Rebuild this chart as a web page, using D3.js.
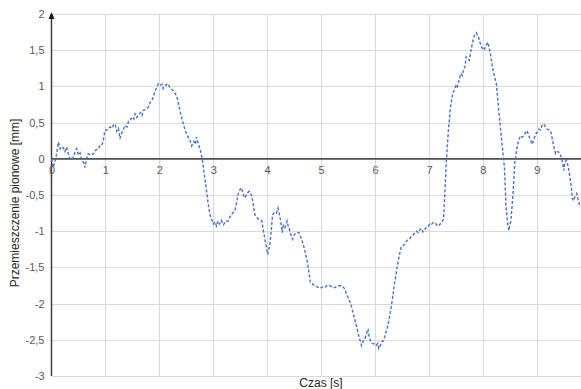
<!DOCTYPE html>
<html><head><meta charset="utf-8">
<script src="https://cdn.jsdelivr.net/npm/d3@7"></script>
<style>
html,body{margin:0;padding:0;background:#fff;}
svg{display:block;font-family:"Liberation Sans",Arial,sans-serif;}
</style></head>
<body>
<svg id="c" width="581" height="389"></svg>
<script>
const times = [0.00,0.03,0.06,0.09,0.127,0.16,0.19,0.22,0.25,0.28,0.32,0.356,0.40,0.44,0.467,0.50,0.53,0.56,0.60,0.62,0.65,0.68,0.72,0.78,0.82,0.87,0.90,0.93,0.96,0.99,1.03,1.085,1.12,1.15,1.18,1.21,1.24,1.27,1.30,1.33,1.36,1.40,1.43,1.46,1.50,1.53,1.55,1.58,1.61,1.65,1.68,1.70,1.75,1.80,1.83,1.86,1.90,1.92,1.95,1.98,2.02,2.05,2.07,2.10,2.15,2.20,2.26,2.32,2.35,2.38,2.43,2.48,2.52,2.57,2.60,2.64,2.67,2.69,2.72,2.76,2.80,2.84,2.88,2.92,2.95,3.00,3.03,3.06,3.09,3.12,3.15,3.19,3.23,3.28,3.31,3.34,3.37,3.40,3.43,3.46,3.50,3.52,3.56,3.59,3.62,3.65,3.67,3.71,3.74,3.77,3.80,3.83,3.87,3.90,3.94,3.98,4.01,4.05,4.08,4.10,4.14,4.17,4.20,4.23,4.25,4.28,4.30,4.33,4.35,4.37,4.39,4.41,4.44,4.47,4.50,4.54,4.59,4.64,4.70,4.76,4.80,4.84,4.88,4.93,4.98,5.03,5.07,5.11,5.16,5.20,5.25,5.30,5.35,5.40,5.44,5.47,5.52,5.56,5.59,5.62,5.66,5.69,5.72,5.75,5.78,5.81,5.84,5.87,5.89,5.91,5.95,5.99,6.02,6.05,6.07,6.10,6.12,6.15,6.18,6.21,6.24,6.27,6.30,6.33,6.36,6.40,6.43,6.46,6.49,6.52,6.55,6.58,6.61,6.65,6.68,6.71,6.74,6.77,6.80,6.83,6.86,6.89,6.93,6.96,6.99,7.02,7.05,7.08,7.11,7.14,7.17,7.21,7.25,7.27,7.29,7.32,7.36,7.40,7.44,7.47,7.50,7.52,7.55,7.59,7.62,7.64,7.67,7.69,7.72,7.75,7.78,7.81,7.84,7.88,7.90,7.92,7.95,7.98,8.02,8.05,8.09,8.12,8.14,8.17,8.20,8.25,8.29,8.35,8.40,8.43,8.46,8.48,8.52,8.56,8.59,8.63,8.66,8.70,8.73,8.76,8.79,8.82,8.85,8.89,8.91,8.93,8.96,8.99,9.02,9.04,9.07,9.09,9.13,9.16,9.19,9.23,9.26,9.30,9.33,9.35,9.38,9.41,9.44,9.47,9.50,9.52,9.55,9.58,9.60,9.64,9.66,9.68,9.71,9.74,9.77,9.80,9.83];
const displacement = [0.00,-0.12,-0.05,0.05,0.23,0.14,0.17,0.15,0.10,0.16,0.05,-0.02,0.02,0.10,0.14,0.05,0.08,-0.02,-0.06,-0.12,0.00,0.07,0.05,0.07,0.12,0.14,0.18,0.18,0.25,0.39,0.40,0.44,0.42,0.47,0.48,0.38,0.42,0.28,0.35,0.40,0.46,0.44,0.52,0.53,0.58,0.55,0.62,0.57,0.60,0.64,0.60,0.67,0.68,0.72,0.78,0.80,0.88,0.94,0.98,1.04,1.02,1.03,0.97,1.00,1.04,0.98,0.94,0.87,0.78,0.67,0.52,0.39,0.32,0.25,0.18,0.24,0.20,0.30,0.22,0.12,-0.02,-0.25,-0.47,-0.70,-0.80,-0.90,-0.87,-0.93,-0.86,-0.90,-0.85,-0.91,-0.86,-0.86,-0.80,-0.77,-0.74,-0.72,-0.62,-0.49,-0.42,-0.40,-0.50,-0.54,-0.48,-0.46,-0.45,-0.51,-0.62,-0.77,-0.80,-0.83,-0.84,-0.86,-1.04,-1.20,-1.32,-1.18,-0.95,-0.77,-0.74,-0.75,-0.68,-0.78,-0.86,-1.02,-0.92,-0.95,-0.90,-0.86,-0.93,-0.97,-1.05,-1.11,-1.05,-1.02,-1.02,-1.11,-1.27,-1.48,-1.71,-1.73,-1.75,-1.77,-1.79,-1.77,-1.78,-1.75,-1.75,-1.77,-1.78,-1.76,-1.75,-1.76,-1.80,-1.87,-1.95,-2.03,-2.12,-2.21,-2.32,-2.42,-2.50,-2.58,-2.52,-2.49,-2.42,-2.35,-2.45,-2.51,-2.55,-2.56,-2.58,-2.55,-2.62,-2.58,-2.53,-2.52,-2.46,-2.38,-2.30,-2.18,-2.05,-1.90,-1.73,-1.55,-1.41,-1.30,-1.21,-1.20,-1.18,-1.14,-1.12,-1.10,-1.06,-1.05,-1.02,-1.00,-1.02,-0.98,-0.96,-1.01,-0.97,-0.94,-0.93,-0.89,-0.90,-0.88,-0.88,-0.91,-0.93,-0.90,-0.86,-0.84,-0.55,-0.07,0.39,0.71,0.90,0.95,1.01,0.98,1.06,1.18,1.15,1.22,1.28,1.41,1.38,1.36,1.50,1.61,1.70,1.74,1.70,1.68,1.60,1.54,1.50,1.55,1.61,1.52,1.45,1.30,1.18,1.04,0.71,0.25,-0.12,-0.67,-0.90,-0.99,-0.85,-0.48,-0.07,0.14,0.25,0.32,0.30,0.32,0.36,0.39,0.32,0.25,0.20,0.23,0.30,0.35,0.38,0.41,0.40,0.45,0.48,0.44,0.41,0.40,0.37,0.23,0.12,0.07,0.10,0.09,0.05,-0.02,-0.16,-0.05,-0.02,-0.10,-0.18,-0.39,-0.55,-0.58,-0.52,-0.48,-0.58,-0.65,-0.66];
const xTicks = [0,1,2,3,4,5,6,7,8,9];
const yTicks = [2,1.5,1,0.5,0,-0.5,-1,-1.5,-2,-2.5,-3];
const xTitle = "Czas [s]";
const yTitle = "Przemieszczenie pionowe [mm]";

const svg = d3.select("#c");
const x = d3.scaleLinear().domain([0, 9.82]).range([51.5, 581]);
const y = d3.scaleLinear().domain([-3, 2]).range([376, 14]);
const fmt = v => String(v).replace(".", ",");

// gridlines
const grid = svg.append("g");
grid.selectAll("line.h").data(yTicks).join("line")
  .attr("x1", x(0)).attr("x2", 581)
  .attr("y1", d => Math.round(y(d)) + 0.5).attr("y2", d => Math.round(y(d)) + 0.5)
  .attr("stroke", "#d9d9d9").attr("stroke-width", 1);
grid.selectAll("line.v").data(xTicks.filter(d => d > 0)).join("line")
  .attr("x1", d => Math.round(x(d)) + 0.5).attr("x2", d => Math.round(x(d)) + 0.5)
  .attr("y1", y(2)).attr("y2", y(-3))
  .attr("stroke", "#d9d9d9").attr("stroke-width", 1);

// y tick labels via axis
const yAx = svg.append("g").attr("transform", `translate(${x(0)},0)`)
  .call(d3.axisLeft(y).tickValues(yTicks).tickFormat(fmt).tickSize(0).tickPadding(7));
yAx.select(".domain").remove();
yAx.selectAll("text").attr("fill", "#595959").style("font-size", "11px");

// x tick labels just under zero line
const xAx = svg.append("g").attr("transform", `translate(0,${y(0)})`)
  .call(d3.axisBottom(x).tickValues(xTicks).tickFormat(fmt).tickSize(0).tickPadding(7));
xAx.select(".domain").remove();
xAx.selectAll("text").attr("fill", "#595959").style("font-size", "11px");

// zero line
svg.append("line").attr("x1", x(0)).attr("x2", 581)
  .attr("y1", y(0)).attr("y2", y(0)).attr("stroke", "#1a1a1a").attr("stroke-width", 1.3);

// y axis line with arrow
svg.append("line").attr("x1", x(0)).attr("x2", x(0))
  .attr("y1", y(-3)).attr("y2", y(2) + 2).attr("stroke", "#404040").attr("stroke-width", 1.5);
svg.append("path")
  .attr("d", `M${x(0)},${y(2) - 2} L${x(0) - 3},${y(2) + 5} L${x(0) + 3},${y(2) + 5} Z`)
  .attr("fill", "#1a1a1a");

// data line
const pts = times.map((t, i) => [t, displacement[i]]);
svg.append("path").datum(pts)
  .attr("fill", "none").attr("stroke", "#4472C4").attr("stroke-width", 1.4)
  .attr("stroke-dasharray", "3,2")
  .attr("d", d3.line().x(d => x(d[0])).y(d => y(d[1])));

// titles
svg.append("text").attr("x", 321).attr("y", 387).attr("text-anchor", "middle")
  .attr("fill", "#262626").style("font-size", "12px").text(xTitle);
svg.append("text").attr("transform", "translate(19,203) rotate(-90)").attr("text-anchor", "middle")
  .attr("fill", "#262626").style("font-size", "12px").text(yTitle);
</script>
</body></html>
